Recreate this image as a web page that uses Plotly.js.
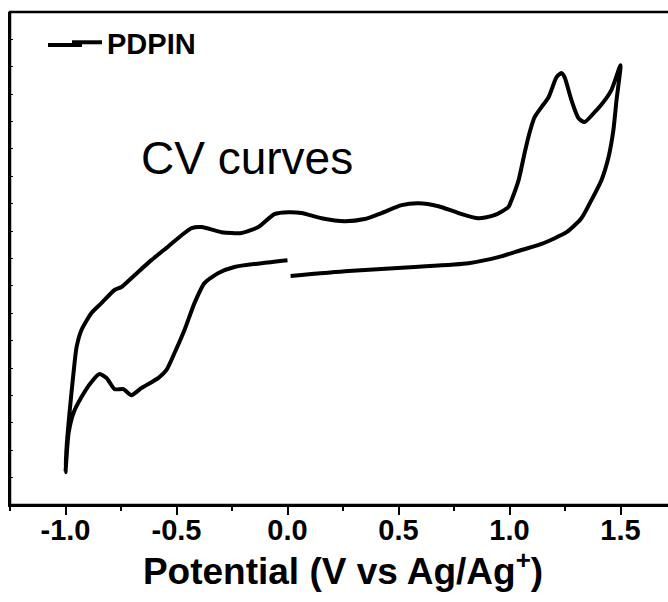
<!DOCTYPE html>
<html>
<head>
<meta charset="utf-8">
<script src="https://cdn.plot.ly/plotly-3.0.1.min.js"></script>
<style>
  html, body { margin: 0; padding: 0; overflow: hidden; background: #fff; }
  #chart { width: 680px; height: 602px; }
</style>
</head>
<body>
<div id="chart"></div>
<script>
// Potential (V vs Ag/Ag+) — one CV cycle: 0 -> 1.5 -> -1.0 -> 0
const potential = [
  0.014, 0.275, 0.572, 0.815, 0.950, 1.054, 1.144, 1.257, 1.324, 1.369, 1.414, 1.446, 1.468, 1.482, 1.500,
  1.459, 1.405, 1.392, 1.338, 1.311, 1.279, 1.248, 1.234, 1.212, 1.176, 1.144, 1.113, 1.090, 1.068, 1.041,
  1.009, 0.995, 0.932, 0.860, 0.770, 0.680, 0.590, 0.514, 0.423, 0.347, 0.257, 0.153, 0.063, 0.005,
  -0.059, -0.131, -0.207, -0.297, -0.387, -0.432, -0.477, -0.536, -0.613, -0.689, -0.748, -0.779, -0.838,
  -0.883, -0.928, -0.950, -0.964, -0.982, -0.995, -1.000,
  -0.986, -0.964, -0.928, -0.883, -0.847, -0.815, -0.779, -0.739, -0.703, -0.658, -0.581, -0.545, -0.509,
  -0.464, -0.419, -0.374, -0.311, -0.239, -0.117, 0.000
];
// Current (arbitrary units, axis has no labels)
const current = [
  8.36, 8.54, 8.69, 8.83, 9.05, 9.31, 9.53, 9.96, 10.47, 11.13, 11.86, 12.70, 13.69, 14.78, 16.06,
  15.15, 14.53, 14.42, 13.98, 14.12, 14.78, 15.62, 15.77, 15.62, 14.89, 14.53, 14.16, 13.58, 12.85, 11.86,
  11.13, 10.88, 10.58, 10.47, 10.66, 10.91, 11.02, 10.95, 10.66, 10.44, 10.36, 10.47, 10.66, 10.69,
  10.62, 10.15, 9.93, 9.96, 10.15, 10.11, 9.85, 9.45, 8.94, 8.39, 7.96, 7.85, 7.37,
  7.01, 6.39, 5.77, 4.82, 3.36, 2.12, 1.20,
  2.63, 3.36, 3.94, 4.49, 4.78, 4.64, 4.23, 4.23, 4.01, 4.27, 4.64, 4.93, 5.55,
  6.39, 7.37, 8.10, 8.47, 8.69, 8.83, 8.94
];
const seriesName = "PDPIN";
const xTickVals = [-1.0, -0.5, 0.0, 0.5, 1.0, 1.5];
const xTickText = ["-1.0", "-0.5", "0.0", "0.5", "1.0", "1.5"];
const xTitle = "Potential (V vs Ag/Ag<sup>+</sup>)";
const noteText = "CV curves";

const FONT = "Liberation Sans, Arial, Helvetica, sans-serif";

const trace = {
  x: potential, y: current, type: "scatter", mode: "lines", name: seriesName,
  line: { color: "#000", width: 4, shape: "spline", smoothing: 0.6 },
  showlegend: true
};

const layout = {
  width: 680, height: 602,
  margin: { l: 10, r: 4, t: 12, b: 97 },
  paper_bgcolor: "#fff", plot_bgcolor: "#fff",
  showlegend: true,
  legend: {
    x: (67 - 10) / 666, y: 0.99, xanchor: "left", yanchor: "top",
    bgcolor: "rgba(0,0,0,0)", borderwidth: 0,
    font: { family: FONT, size: 29, color: "#000", weight: "bold" }
  },
  xaxis: {
    range: [-1.25, 1.75], showline: true, linecolor: "#000", linewidth: 2,
    ticks: "outside", ticklen: 8, tickwidth: 2, tickcolor: "#000",
    tickvals: xTickVals, ticktext: xTickText,
    minor: { dtick: 0.25, tick0: 0, ticks: "outside", ticklen: 4, tickwidth: 2, tickcolor: "#000", showgrid: false },
    showgrid: false, zeroline: false, ticklabelstandoff: -10,
    tickfont: { family: FONT, size: 29, color: "#000", weight: "bold" },
    title: { text: xTitle, font: { family: FONT, size: 37, color: "#000", weight: "bold" }, standoff: 12 }
  },
  yaxis: {
    range: [0, 18], showline: true, linecolor: "#000", linewidth: 2,
    ticks: "inside", ticklen: 3, tickwidth: 1, tickcolor: "#000", dtick: 1, tick0: 0,
    showticklabels: false, showgrid: false, zeroline: false
  },
  shapes: [
    { type: "rect", xref: "paper", yref: "paper", x0: 0, x1: 1, y0: 0, y1: 1,
      line: { color: "#000", width: 2.5 }, fillcolor: "rgba(0,0,0,0)", layer: "above" },
    { type: "line", xref: "paper", yref: "paper",
      x0: (48 - 10) / 666, x1: (82 - 10) / 666, y0: (505 - 45) / 493, y1: (505 - 45) / 493,
      line: { color: "#000", width: 4 } }
  ],
  annotations: [{
    text: noteText, xref: "paper", yref: "paper",
    x: (247 - 10) / 666, y: (505 - 158) / 493, xanchor: "center", yanchor: "middle",
    showarrow: false, font: { family: FONT, size: 46, color: "#000" }
  }]
};

Plotly.newPlot("chart", [trace], layout, { displayModeBar: false, staticPlot: true });
</script>
</body>
</html>
